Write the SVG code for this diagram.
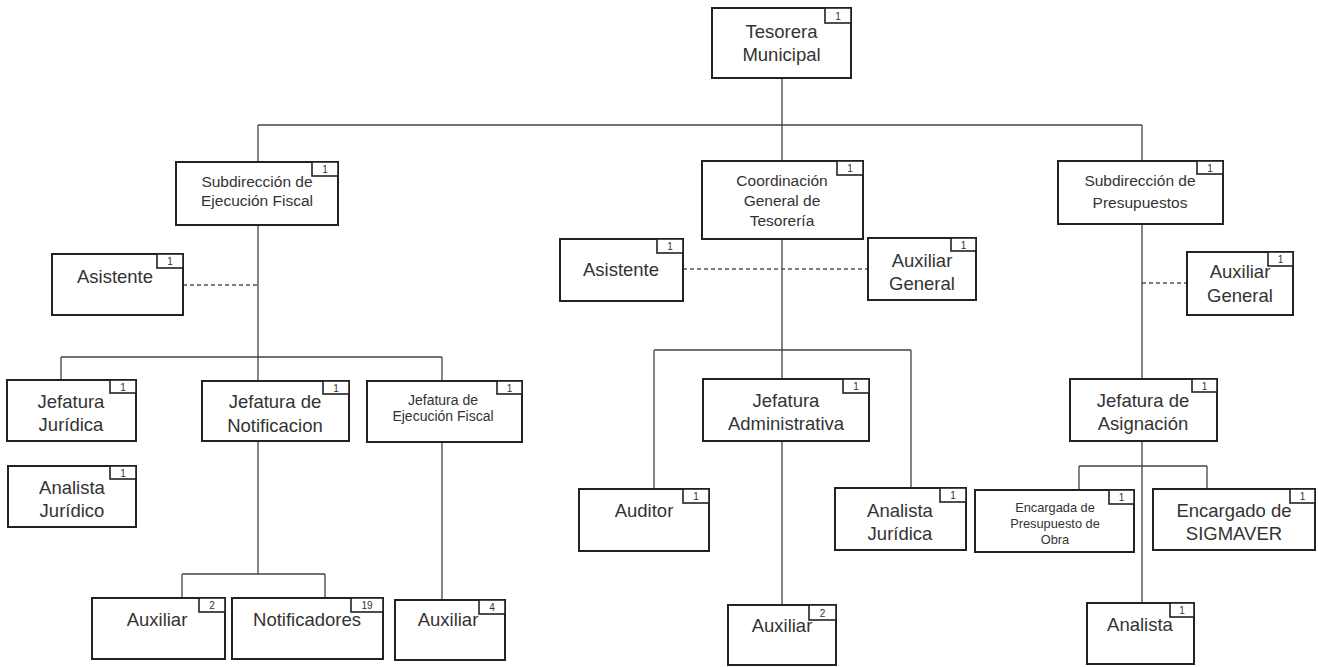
<svg xmlns="http://www.w3.org/2000/svg" width="1318" height="667" viewBox="0 0 1318 667">
<style>
.box{fill:#fff;stroke:#222;stroke-width:2}
.badge{fill:#fff;stroke:#222;stroke-width:1.6}
.num{font-family:"Liberation Sans",Arial,sans-serif;font-size:10px;fill:#333;text-anchor:middle}
.t{font-family:"Liberation Sans",Arial,sans-serif;font-size:18.5px;fill:#333;text-anchor:middle}
.m{font-size:15.5px}
.s{font-size:14px}
.xs{font-size:12.8px}
.ln{fill:none;stroke:#444;stroke-width:1.3}
.dash{fill:none;stroke:#555;stroke-width:1.3;stroke-dasharray:4 3}
</style>
<rect width="1318" height="667" fill="#fff"/>
<g id="connectors">
<path class="ln" d="M782 78V125M258 125H1142M258 125V162M782 125V161M1142 125V161"/>
<path class="ln" d="M258 225V357M61 357H442M61 357V380M258 357V381M442 357V381"/>
<path class="ln" d="M258 441V574M182 574H325M182 574V598M325 574V598M442 442V600"/>
<path class="ln" d="M782 239V379M654 350H911M654 350V489M911 350V488M782 441V605"/>
<path class="ln" d="M1142 224V379M1142 441V603M1079 466H1207M1079 466V490M1207 466V489"/>
<path class="dash" d="M183 285H257M683 269H868M1142 283H1187"/>
</g>
<g id="n-tesorera"><rect class="box" x="712" y="8" width="139" height="70"/><rect class="badge" x="825" y="8" width="26" height="15"/><text class="num" x="838" y="20">1</text><text class="t" x="781.5" y="38">Tesorera</text><text class="t" x="781.5" y="61">Municipal</text></g>
<g id="n-subdir-ejec"><rect class="box" x="176" y="162" width="162" height="63"/><rect class="badge" x="312" y="162" width="26" height="14"/><text class="num" x="325" y="173">1</text><text class="t m" x="257" y="187">Subdirección de</text><text class="t m" x="257" y="206">Ejecución Fiscal</text></g>
<g id="n-asistente-l"><rect class="box" x="52" y="254" width="131" height="61"/><rect class="badge" x="157" y="254" width="26" height="14"/><text class="num" x="170" y="265">1</text><text class="t" x="115" y="283">Asistente</text></g>
<g id="n-jef-jur"><rect class="box" x="7" y="380" width="129" height="61"/><rect class="badge" x="110" y="380" width="26" height="13"/><text class="num" x="123" y="391">1</text><text class="t" x="71" y="408">Jefatura</text><text class="t" x="71" y="431">Jurídica</text></g>
<g id="n-jef-notif"><rect class="box" x="202" y="381" width="147" height="60"/><rect class="badge" x="323" y="381" width="26" height="13"/><text class="num" x="336" y="392">1</text><text class="t" x="275" y="408">Jefatura de</text><text class="t" x="275" y="432">Notificacion</text></g>
<g id="n-jef-ejec"><rect class="box" x="367" y="381" width="155" height="61"/><rect class="badge" x="497" y="381" width="25" height="13"/><text class="num" x="509.5" y="392">1</text><text class="t s" x="443" y="405">Jefatura de</text><text class="t s" x="443" y="421">Ejecución Fiscal</text></g>
<g id="n-analista-jur"><rect class="box" x="8" y="466" width="128" height="61"/><rect class="badge" x="110" y="466" width="26" height="13"/><text class="num" x="123" y="477">1</text><text class="t" x="72" y="494">Analista</text><text class="t" x="72" y="517">Jurídico</text></g>
<g id="n-aux-2"><rect class="box" x="92" y="598" width="133" height="61"/><rect class="badge" x="199" y="598" width="26" height="14"/><text class="num" x="212" y="609">2</text><text class="t" x="157" y="626">Auxiliar</text></g>
<g id="n-notificadores"><rect class="box" x="232" y="598" width="151" height="61"/><rect class="badge" x="351" y="598" width="32" height="14"/><text class="num" x="367" y="609">19</text><text class="t" x="307" y="626">Notificadores</text></g>
<g id="n-aux-4"><rect class="box" x="395" y="600" width="110" height="60"/><rect class="badge" x="479" y="600" width="26" height="14"/><text class="num" x="492" y="611">4</text><text class="t" x="448" y="626">Auxiliar</text></g>
<g id="n-coord"><rect class="box" x="702" y="161" width="161" height="78"/><rect class="badge" x="837" y="161" width="26" height="14"/><text class="num" x="850" y="172">1</text><text class="t m" x="782" y="186">Coordinación</text><text class="t m" x="782" y="206">General de</text><text class="t m" x="782" y="226">Tesorería</text></g>
<g id="n-asistente-m"><rect class="box" x="560" y="239" width="123" height="62"/><rect class="badge" x="657" y="239" width="26" height="14"/><text class="num" x="670" y="250">1</text><text class="t" x="621" y="276">Asistente</text></g>
<g id="n-auxgen-m"><rect class="box" x="868" y="238" width="108" height="62"/><rect class="badge" x="951" y="238" width="25" height="13"/><text class="num" x="963.5" y="249">1</text><text class="t" x="922" y="267">Auxiliar</text><text class="t" x="922" y="290">General</text></g>
<g id="n-subdir-pres"><rect class="box" x="1058" y="161" width="165" height="63"/><rect class="badge" x="1197" y="161" width="26" height="13"/><text class="num" x="1210" y="172">1</text><text class="t m" x="1140" y="186">Subdirección de</text><text class="t m" x="1140" y="208">Presupuestos</text></g>
<g id="n-auxgen-r"><rect class="box" x="1187" y="252" width="106" height="63"/><rect class="badge" x="1268" y="252" width="25" height="14"/><text class="num" x="1280.5" y="263">1</text><text class="t" x="1240" y="278">Auxiliar</text><text class="t" x="1240" y="302">General</text></g>
<g id="n-jef-admin"><rect class="box" x="703" y="379" width="166" height="62"/><rect class="badge" x="843" y="379" width="26" height="14"/><text class="num" x="856" y="390">1</text><text class="t" x="786" y="407">Jefatura</text><text class="t" x="786" y="430">Administrativa</text></g>
<g id="n-auditor"><rect class="box" x="579" y="489" width="130" height="62"/><rect class="badge" x="683" y="489" width="26" height="14"/><text class="num" x="696" y="500">1</text><text class="t" x="644" y="517">Auditor</text></g>
<g id="n-analista-jurica"><rect class="box" x="835" y="488" width="131" height="62"/><rect class="badge" x="940" y="488" width="26" height="14"/><text class="num" x="953" y="499">1</text><text class="t" x="900" y="517">Analista</text><text class="t" x="900" y="540">Jurídica</text></g>
<g id="n-aux-mid"><rect class="box" x="728" y="605" width="108" height="60"/><rect class="badge" x="809" y="605" width="27" height="15"/><text class="num" x="822.5" y="617">2</text><text class="t" x="782" y="632">Auxiliar</text></g>
<g id="n-jef-asig"><rect class="box" x="1070" y="379" width="147" height="62"/><rect class="badge" x="1192" y="379" width="25" height="13"/><text class="num" x="1204.5" y="390">1</text><text class="t" x="1143" y="407">Jefatura de</text><text class="t" x="1143" y="430">Asignación</text></g>
<g id="n-encargada"><rect class="box" x="975" y="490" width="159" height="62"/><rect class="badge" x="1109" y="490" width="25" height="14"/><text class="num" x="1121.5" y="501">1</text><text class="t xs" x="1055" y="512">Encargada de</text><text class="t xs" x="1055" y="528">Presupuesto de</text><text class="t xs" x="1055" y="544">Obra</text></g>
<g id="n-encargado"><rect class="box" x="1153" y="489" width="162" height="61"/><rect class="badge" x="1290" y="489" width="25" height="14"/><text class="num" x="1302.5" y="500">1</text><text class="t" x="1234" y="517">Encargado de</text><text class="t" x="1234" y="540">SIGMAVER</text></g>
<g id="n-analista"><rect class="box" x="1087" y="603" width="107" height="61"/><rect class="badge" x="1170" y="603" width="24" height="14"/><text class="num" x="1182" y="614">1</text><text class="t" x="1140" y="631">Analista</text></g>
</svg>
